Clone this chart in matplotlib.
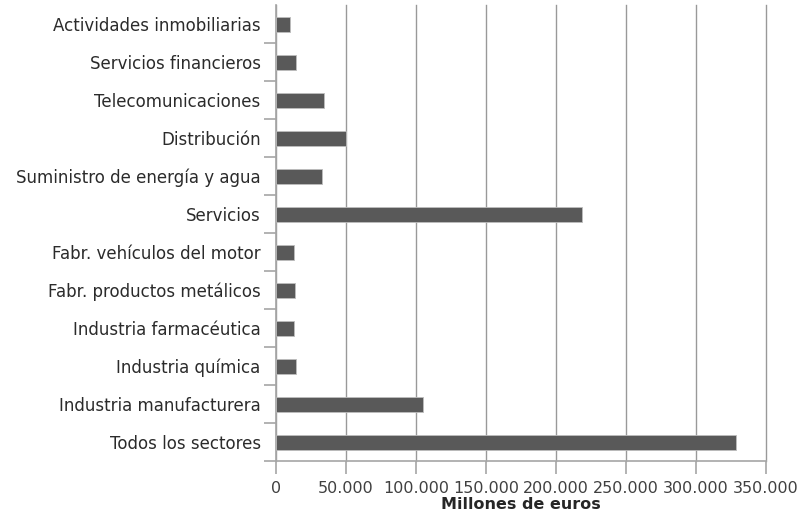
import numpy as np
import matplotlib.pyplot as plt
from matplotlib.ticker import FuncFormatter

# sectors listed bottom to top
sectors = [
    "Todos los sectores",
    "Industria manufacturera",
    "Industria química",
    "Industria farmacéutica",
    "Fabr. productos metálicos",
    "Fabr. vehículos del motor",
    "Servicios",
    "Suministro de energía y agua",
    "Distribución",
    "Telecomunicaciones",
    "Servicios financieros",
    "Actividades inmobiliarias",
]
values = [328500, 105000, 14000, 12600, 13300, 12600, 219000, 33000, 49700, 34000, 14000, 9800]
xticks = [0, 50000, 100000, 150000, 200000, 250000, 300000, 350000]

plt.rcParams['font.family'] = ['DejaVu Sans']

fig = plt.figure(figsize=(8.07, 5.24), dpi=100)
ax = fig.add_axes([0.342, 0.120, 0.607, 0.870])

y = np.arange(len(sectors))
ax.barh(y, values, height=0.4, color='#595959', edgecolor='#bdbdbd', linewidth=0.6, zorder=3)

ax.set_xlim(0, 350000)
ax.set_ylim(-0.5, len(sectors) - 0.5)
ax.set_xticks(xticks)
ax.xaxis.set_major_formatter(FuncFormatter(lambda v, p: f"{int(v):,}".replace(",", ".")))
ax.grid(axis='x', color='#999999', linewidth=1.0, zorder=0)
for gl in ax.get_xgridlines():
    gl.set_clip_on(False)

ax.set_yticks(y)
ax.set_yticklabels(sectors)
ax.set_yticks(np.arange(-0.5, len(sectors) - 0.5, 1.0), minor=True)
ax.tick_params(axis='y', which='major', length=0, pad=11, labelsize=12, labelcolor='#2b2b2b')
ax.tick_params(axis='y', which='minor', length=9, width=1.2, color='#a6a6a6')
ax.tick_params(axis='x', length=9, width=1.2, color='#a6a6a6', labelsize=11.5, labelcolor='#404040', pad=5)

for s in ['top', 'right']:
    ax.spines[s].set_visible(False)
for s in ['left', 'bottom']:
    ax.spines[s].set_color('#a6a6a6')
    ax.spines[s].set_linewidth(1.2)

ax.set_xlabel("Millones de euros", fontsize=11.5, fontweight='bold', color='#262626', labelpad=1)

fig.savefig("out.png", dpi=100)
